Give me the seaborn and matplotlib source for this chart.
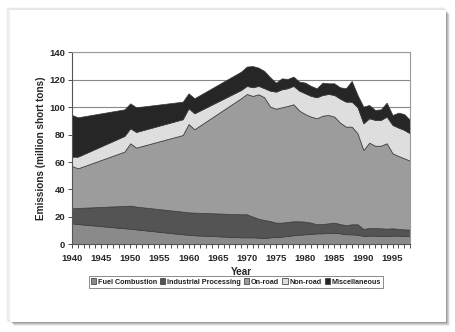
import numpy as np
import pandas as pd
import matplotlib
matplotlib.use("Agg")
import matplotlib.pyplot as plt
from matplotlib.patches import Rectangle, Patch
import seaborn as sns

years = [1940, 1941, 1949, 1950, 1951, 1959, 1960, 1961, 1969,
         1970, 1971, 1972, 1973, 1974, 1975, 1976, 1977, 1978, 1979,
         1980, 1981, 1982, 1983, 1984, 1985, 1986, 1987, 1988, 1989,
         1990, 1991, 1992, 1993, 1994, 1995, 1996, 1997, 1998]

fuel_combustion = [15.3, 14.8, 11.7, 11.4, 10.9, 7.3, 7.0, 6.6, 5.1,
                   5.1, 5.1, 4.9, 4.6, 5.1, 5.3, 5.6, 6.1, 6.6, 7.0,
                   7.3, 7.5, 8.0, 8.0, 8.3, 8.5, 8.0, 7.3, 7.3, 7.0,
                   6.1, 6.3, 6.3, 6.1, 6.1, 6.3, 6.3, 6.1, 6.1]
industrial_processing = [11.0, 11.7, 16.3, 16.8, 16.6, 16.5, 16.3, 16.5, 16.8,
                         16.8, 15.1, 13.8, 13.1, 11.9, 10.5, 10.2, 10.2, 10.2, 9.8,
                         9.2, 8.3, 6.6, 6.8, 7.0, 7.3, 6.8, 6.6, 7.3, 7.6,
                         5.1, 5.6, 5.6, 5.6, 5.3, 5.4, 4.9, 4.8, 4.6]
on_road = [30.8, 28.9, 39.6, 45.5, 43.0, 55.9, 64.4, 60.8, 84.6,
           87.7, 88.0, 90.7, 89.5, 83.4, 83.1, 84.1, 84.6, 85.3, 80.7,
           78.5, 77.3, 77.3, 79.0, 79.0, 77.3, 73.9, 71.9, 71.2, 66.3,
           57.6, 62.2, 60.0, 60.2, 62.3, 54.7, 53.2, 51.8, 50.3]
non_road = [6.8, 8.5, 11.4, 10.9, 11.4, 11.5, 11.5, 11.6, 6.0,
            5.9, 6.3, 6.1, 6.6, 11.6, 12.4, 13.1, 12.9, 13.4, 14.5,
            15.1, 15.1, 15.3, 15.1, 15.3, 15.8, 17.5, 18.2, 18.2, 19.0,
            19.4, 17.8, 18.8, 18.8, 19.4, 20.6, 20.7, 20.7, 19.9]
miscellaneous = [30.4, 28.7, 19.4, 18.2, 18.0, 12.8, 10.9, 11.0, 13.4,
                 14.1, 15.5, 13.3, 12.6, 9.8, 6.6, 8.0, 6.8, 6.8, 6.6,
                 7.8, 7.3, 6.6, 9.0, 7.8, 8.5, 8.3, 9.8, 15.1, 9.0,
                 12.2, 9.7, 7.3, 7.7, 10.2, 7.3, 10.9, 11.6, 9.8]

sources = ["Fuel Combustion", "Industrial Processing", "On-road",
           "Non-road", "Miscellaneous"]
colors = ["#8a8a8a", "#545454", "#9c9c9c", "#dedede", "#262626"]

df = pd.DataFrame({"Year": years,
                   "Fuel Combustion": fuel_combustion,
                   "Industrial Processing": industrial_processing,
                   "On-road": on_road,
                   "Non-road": non_road,
                   "Miscellaneous": miscellaneous})

sns.set_theme(style="white")
plt.rcParams["font.family"] = ["Liberation Sans", "DejaVu Sans"]

fig = plt.figure(figsize=(4.56, 3.32), dpi=100)
fig.patch.set_facecolor("white")

# card with soft drop shadow to the lower right
for i in range(7):
    fig.add_artist(Rectangle((10 / 456 + (i + 1) * 0.0011, 10 / 332 - (i + 1) * 0.0016),
                             436 / 456, 312 / 332,
                             transform=fig.transFigure, facecolor="black",
                             alpha=0.06, edgecolor="none", zorder=0))
for i in range(4):
    fig.add_artist(Rectangle((10 / 456 - i * 0.002, 10 / 332 + i * 0.002),
                             436 / 456, 312 / 332,
                             transform=fig.transFigure, facecolor="none",
                             edgecolor="black", alpha=0.04, lw=1.2, zorder=0))
fig.add_artist(Rectangle((10 / 456, 10 / 332), 436 / 456, 312 / 332,
                         transform=fig.transFigure, facecolor="white",
                         edgecolor="none", zorder=0.5))

ax = fig.add_axes([72 / 456, 1 - 244.3 / 332, 338 / 456, 192 / 332])
ax.set_facecolor("none")
ax.set_zorder(1)

ax.stackplot(df["Year"], *[df[s] for s in sources], colors=colors,
             edgecolor="#3a3a3a", linewidth=0.5, zorder=2)

ax.set_xlim(1940, 1998)
ax.set_ylim(0, 140)
ax.set_yticks(np.arange(0, 141, 20))
ax.set_xticks(np.arange(1940, 1999, 5))
ax.set_xticks(np.arange(1940, 1999, 1), minor=True)
ax.yaxis.grid(True, color="#888888", linewidth=0.8, zorder=1)
ax.set_axisbelow(True)

for side in ["top", "right"]:
    ax.spines[side].set_color("#999999")
    ax.spines[side].set_linewidth(0.8)
for side in ["left", "bottom"]:
    ax.spines[side].set_color("#555555")
    ax.spines[side].set_linewidth(0.8)

ax.tick_params(axis="x", which="both", direction="out", length=3, width=0.6,
               color="#333333", bottom=True, pad=4)
ax.tick_params(axis="y", which="major", direction="out", length=3, width=0.6,
               color="#333333", left=True, pad=2)
for lbl in ax.get_xticklabels() + ax.get_yticklabels():
    lbl.set_fontsize(6.8)
    lbl.set_fontweight("bold")

ax.set_xlabel("Year", fontsize=7.2, fontweight="bold", labelpad=3)
ax.set_ylabel("Emissions (million short tons)", fontsize=7.2,
              fontweight="bold", labelpad=2)

handles = [Patch(facecolor=c, edgecolor="#333333", linewidth=0.5)
           for c in colors]
leg = fig.legend(handles, sources, loc="center",
                 bbox_to_anchor=(236 / 456, 1 - 282 / 332), ncol=5,
                 fontsize=5.2, frameon=True, fancybox=False,
                 handlelength=0.7, handleheight=0.8, handletextpad=0.25,
                 columnspacing=0.45, borderpad=0.3, borderaxespad=0)
leg.get_frame().set_edgecolor("#555555")
leg.get_frame().set_linewidth(0.6)
for t in leg.get_texts():
    t.set_fontweight("bold")
    t.set_color("#222222")

fig.savefig("out.png", dpi=100)
